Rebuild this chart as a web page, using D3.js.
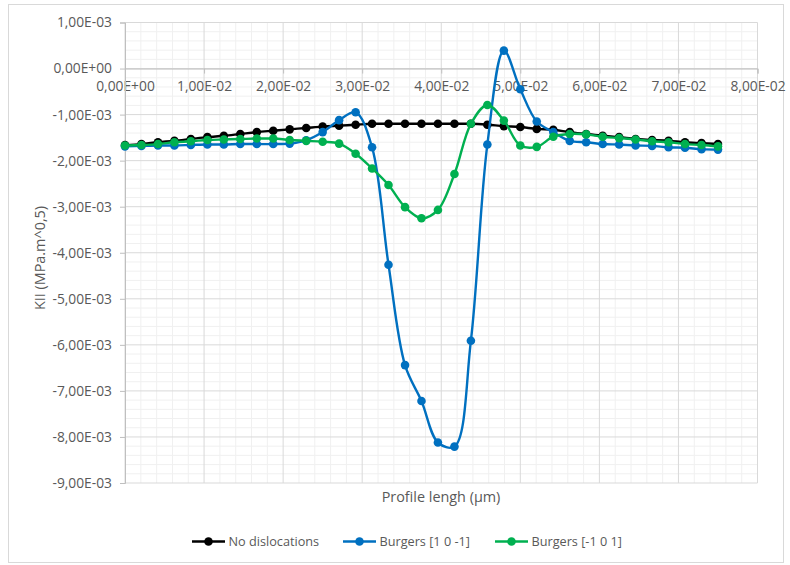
<!DOCTYPE html>
<html><head><meta charset="utf-8">
<script src="https://cdn.jsdelivr.net/npm/d3@7"></script>
<style>body{margin:0;background:#fff;} text{font-family:"Open Sans",sans-serif;fill:#595959;}</style>
</head><body><svg id="c" width="790" height="565"></svg>
<script>
const profile = [0,0.00208,0.00417,0.00625,0.00833,0.01042,0.0125,0.01458,0.01667,0.01875,0.02083,0.02292,0.025,0.02708,0.02917,0.03125,0.03333,0.03542,0.0375,0.03958,0.04167,0.04375,0.04583,0.04792,0.05,0.05208,0.05417,0.05625,0.05833,0.06042,0.0625,0.06458,0.06667,0.06875,0.07083,0.07292,0.075];
const noDisloc = [-1.66e-3,-1.64e-3,-1.60e-3,-1.57e-3,-1.53e-3,-1.49e-3,-1.46e-3,-1.42e-3,-1.38e-3,-1.35e-3,-1.32e-3,-1.29e-3,-1.26e-3,-1.24e-3,-1.22e-3,-1.20e-3,-1.20e-3,-1.20e-3,-1.20e-3,-1.20e-3,-1.20e-3,-1.20e-3,-1.22e-3,-1.25e-3,-1.27e-3,-1.31e-3,-1.33e-3,-1.38e-3,-1.42e-3,-1.46e-3,-1.49e-3,-1.53e-3,-1.55e-3,-1.57e-3,-1.60e-3,-1.62e-3,-1.64e-3];
const burgers1 = [-1.69e-3,-1.68e-3,-1.67e-3,-1.67e-3,-1.66e-3,-1.65e-3,-1.65e-3,-1.64e-3,-1.64e-3,-1.64e-3,-1.63e-3,-1.56e-3,-1.38e-3,-1.12e-3,-0.95e-3,-1.71e-3,-4.26e-3,-6.44e-3,-7.22e-3,-8.12e-3,-8.21e-3,-5.91e-3,-1.65e-3,0.39e-3,-0.45e-3,-1.15e-3,-1.38e-3,-1.57e-3,-1.60e-3,-1.64e-3,-1.65e-3,-1.67e-3,-1.68e-3,-1.71e-3,-1.72e-3,-1.75e-3,-1.76e-3];
const burgers2 = [-1.67e-3,-1.66e-3,-1.64e-3,-1.60e-3,-1.58e-3,-1.55e-3,-1.54e-3,-1.53e-3,-1.52e-3,-1.52e-3,-1.55e-3,-1.57e-3,-1.59e-3,-1.63e-3,-1.85e-3,-2.17e-3,-2.53e-3,-3.01e-3,-3.25e-3,-3.07e-3,-2.29e-3,-1.20e-3,-0.79e-3,-1.13e-3,-1.67e-3,-1.70e-3,-1.48e-3,-1.42e-3,-1.43e-3,-1.48e-3,-1.51e-3,-1.54e-3,-1.58e-3,-1.60e-3,-1.64e-3,-1.66e-3,-1.69e-3];
const seriesNames = ["No dislocations","Burgers [1 0 -1]","Burgers [-1 0 1]"];
const seriesColors = ["#000000","#0070C0","#00B050"];
const xTicks = [0,0.01,0.02,0.03,0.04,0.05,0.06,0.07,0.08];
const xTickLabels = ["0,00E+00","1,00E-02","2,00E-02","3,00E-02","4,00E-02","5,00E-02","6,00E-02","7,00E-02","8,00E-02"];
const yTicks = [1e-3,0,-1e-3,-2e-3,-3e-3,-4e-3,-5e-3,-6e-3,-7e-3,-8e-3,-9e-3];
const yTickLabels = ["1,00E-03","0,00E+00","-1,00E-03","-2,00E-03","-3,00E-03","-4,00E-03","-5,00E-03","-6,00E-03","-7,00E-03","-8,00E-03","-9,00E-03"];
const xTitle = "Profile lengh (µm)";
const yTitle = "KII (MPa.m^0,5)";

const svg = d3.select("#c");
const x = d3.scaleLinear().domain([0,0.08]).range([125,757.5]);
const y = d3.scaleLinear().domain([1e-3,-9e-3]).range([22.5,483]);

svg.append("rect").attr("x",8.5).attr("y",4.5).attr("width",775).attr("height",558)
  .attr("fill","#fff").attr("stroke","#d9d9d9");

// minor grid
const xMinor = d3.range(0,0.0801,0.002).filter(v=>Math.abs(v/0.01-Math.round(v/0.01))>1e-6);
const yMinor = d3.range(-9e-3,1.001e-3,0.2e-3).filter(v=>Math.abs(v/1e-3-Math.round(v/1e-3))>1e-6);
const g = svg.append("g");
g.selectAll(".xm").data(xMinor).join("line").attr("x1",d=>x(d)).attr("x2",d=>x(d)).attr("y1",y(1e-3)).attr("y2",y(-9e-3)).attr("stroke","#f0f0f0").attr("stroke-width",1);
g.selectAll(".ym").data(yMinor).join("line").attr("y1",d=>y(d)).attr("y2",d=>y(d)).attr("x1",x(0)).attr("x2",x(0.08)).attr("stroke","#f0f0f0").attr("stroke-width",1);
// major grid
g.selectAll(".xM").data(xTicks).join("line").attr("x1",d=>x(d)).attr("x2",d=>x(d)).attr("y1",y(1e-3)).attr("y2",y(-9e-3)).attr("stroke","#d9d9d9").attr("stroke-width",1);
g.selectAll(".yM").data(yTicks).join("line").attr("y1",d=>y(d)).attr("y2",d=>y(d)).attr("x1",x(0)).attr("x2",x(0.08)).attr("stroke","#d9d9d9").attr("stroke-width",1);

// axes
const xAxis = d3.axisBottom(x).tickValues(xTicks).tickFormat((d,i)=>xTickLabels[i]).tickSize(5).tickPadding(8);
const yAxis = d3.axisLeft(y).tickValues(yTicks).tickFormat((d,i)=>yTickLabels[i]).tickSize(5).tickPadding(8);
const ax = svg.append("g").attr("transform",`translate(0,${y(0)})`).call(xAxis);
const ay = svg.append("g").attr("transform",`translate(${x(0)},0)`).call(yAxis);
[ax,ay].forEach(a=>{
  a.select(".domain").attr("stroke","#bfbfbf");
  a.selectAll(".tick line").attr("stroke","#bfbfbf");
  a.selectAll(".tick text").style("font-family","'Open Sans',sans-serif").style("font-size","13.8px").attr("fill","#595959");
});

svg.append("text").attr("x",441).attr("y",502).attr("text-anchor","middle").style("font-size","14.4px").text(xTitle);
svg.append("text").attr("transform","translate(45,258) rotate(-90)").attr("text-anchor","middle").style("font-size","14.4px").text(yTitle);

// series
const allSeries = [noDisloc,burgers1,burgers2];
const line = d3.line().x(d=>x(d[0])).y(d=>y(d[1])).curve(d3.curveCatmullRom.alpha(0.5));
allSeries.forEach((vals,si)=>{
  const pts = profile.map((p,i)=>[p,vals[i]]);
  const sg = svg.append("g");
  sg.append("path").datum(pts).attr("d",line).attr("fill","none").attr("stroke",seriesColors[si]).attr("stroke-width",2.4);
  sg.selectAll("circle").data(pts).join("circle").attr("cx",d=>x(d[0])).attr("cy",d=>y(d[1])).attr("r",4.3).attr("fill",seriesColors[si]);
});

// legend
const legX = [192,343,495];
const lg = svg.append("g");
seriesNames.forEach((n,i)=>{
  lg.append("line").attr("x1",legX[i]).attr("x2",legX[i]+33).attr("y1",541.5).attr("y2",541.5).attr("stroke",seriesColors[i]).attr("stroke-width",2.4);
  lg.append("circle").attr("cx",legX[i]+16.5).attr("cy",541.5).attr("r",4.3).attr("fill",seriesColors[i]);
  lg.append("text").attr("x",legX[i]+36.5).attr("y",546).style("font-size","12.7px").text(n);
});
</script></body></html>
